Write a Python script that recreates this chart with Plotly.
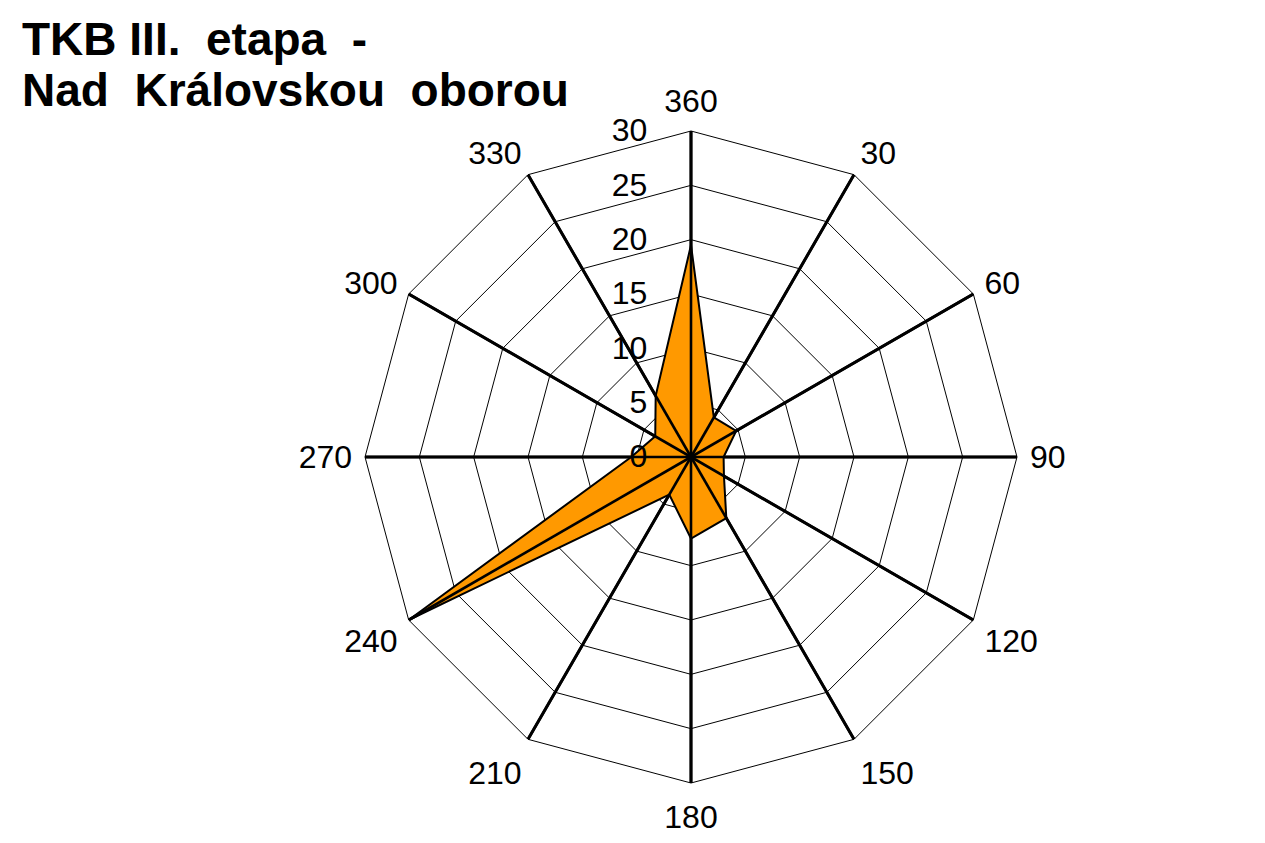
import plotly.graph_objects as go

# ---- data ----
directions = ["360", "30", "60", "90", "120", "150", "180", "210", "240", "270", "300", "330"]
values = [19.5, 4.2, 4.8, 3.0, 3.5, 6.5, 7.5, 4.0, 30.0, 5.5, 3.8, 6.5]
radial_ticks = [0, 5, 10, 15, 20, 25, 30]
title_lines = ["TKB III.\u00a0 etapa\u00a0 -", "Nad\u00a0 Královskou\u00a0 oborou"]

W, H = 1265, 843
CX, CY, R = 683, 449, 326
FONT = "Liberation Sans, Arial, sans-serif"

rmax = radial_ticks[-1]

fig = go.Figure()

# data polygon (closed)
fig.add_trace(go.Scatterpolar(
    r=values + values[:1],
    theta=directions + directions[:1],
    mode="lines",
    fill="toself",
    fillcolor="#FF9900",
    line=dict(color="black", width=2),
    hoverinfo="r+theta",
    showlegend=False,
))

# heavy spokes drawn above the fill
spoke_r, spoke_t = [], []
for d in directions:
    spoke_r += [radial_ticks[0], rmax, None]
    spoke_t += [d, d, d]
fig.add_trace(go.Scatterpolar(
    r=spoke_r, theta=spoke_t, mode="lines",
    line=dict(color="black", width=2.6),
    connectgaps=False, hoverinfo="skip", showlegend=False,
))

dx0, dx1 = (CX - R) / W, (CX + R) / W
yb = H - CY
dy0, dy1 = (yb - R) / H, (yb + R) / H

fig.update_layout(
    width=W, height=H,
    margin=dict(l=0, r=0, t=0, b=0),
    paper_bgcolor="white",
    plot_bgcolor="white",
    font=dict(family=FONT, color="black"),
    polar=dict(
        domain=dict(x=[dx0, dx1], y=[dy0, dy1]),
        bgcolor="white",
        gridshape="linear",
        radialaxis=dict(
            range=[0, rmax],
            tickvals=radial_ticks,
            ticktext=[str(v) for v in radial_ticks],
            angle=90,
            tickangle=90,
            side="counterclockwise",
            showline=False,
            ticks="outside",
            ticklen=32,
            tickcolor="rgba(0,0,0,0)",
            tickfont=dict(size=32, family=FONT, color="black"),
            gridcolor="black",
            gridwidth=1,
        ),
        angularaxis=dict(
            type="category",
            categoryarray=directions,
            direction="clockwise",
            rotation=90,
            showline=True,
            linecolor="black",
            linewidth=1,
            gridcolor="black",
            gridwidth=2.6,
            ticks="outside",
            ticklen=6,
            tickcolor="rgba(0,0,0,0)",
            tickfont=dict(size=32, family=FONT, color="black"),
        ),
    ),
    annotations=[
        dict(text="<b>" + title_lines[0] + "</b>", xref="paper", yref="paper",
             x=12 / W, y=1 - 31 / H, xanchor="left", yanchor="middle",
             showarrow=False, font=dict(size=46, family=FONT, color="black")),
        dict(text="<b>" + title_lines[1] + "</b>", xref="paper", yref="paper",
             x=12 / W, y=1 - 82 / H, xanchor="left", yanchor="middle",
             showarrow=False, font=dict(size=46, family=FONT, color="black")),
    ],
)

fig.write_html("out.html")
